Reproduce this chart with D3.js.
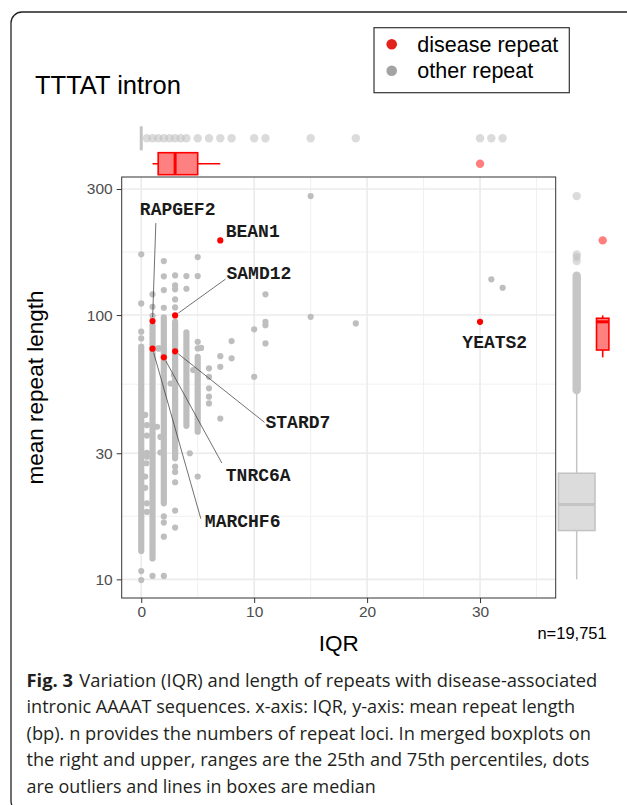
<!DOCTYPE html>
<html>
<head>
<meta charset="utf-8">
<script src="https://cdnjs.cloudflare.com/ajax/libs/d3/7.8.5/d3.min.js"></script>
<style>
  html, body { margin: 0; padding: 0; background: #fff; }
  svg { display: block; }
</style>
</head>
<body>
<div id="chart"></div>
<script>
// ---- data ----
// disease repeats (red, labelled)
var diseaseGenes = ["RAPGEF2", "BEAN1", "SAMD12", "MARCHF6", "TNRC6A", "STARD7", "YEATS2"];
var diseaseIQR = [1, 7, 3, 1, 2, 3, 30];
var diseaseLength = [94.9, 191.7, 99.7, 74.6, 69.2, 72.9, 94.3];

// other repeats: dense columns where points overlap into a solid bar
var runIQR = [0, 1, 2, 3, 4, 5];
var runLow = [12.8, 12.0, 19.4, 28.7, 38.1, 36.2];
var runHigh = [76, 91.6, 98, 94.3, 86, 69.5];

// other repeats: separate points
var otherIQR = [
  0, 0, 0, 0, 0, 0,
  1, 1, 1, 1,
  2, 2, 2, 2, 2, 2, 2, 2,
  3, 3, 3, 3, 3, 3, 3, 3, 3, 3,
  4, 4,
  5, 5, 5, 5, 5,
  6, 6, 6, 6, 6,
  7, 7, 7,
  8, 8,
  10, 10,
  11, 11, 11, 11,
  15, 15, 19, 31, 32,
  0.35, 0.5, 0.5, 0.5, 0.5, 0.45, 0.35, 0.35, 0.5, 0.5,
  1.7, 1.7, 1.4, 1.6, 1.5, 2.6, 2.9, 4.6, 4.3, 5.3
];
var otherLength = [
  169.7, 110.7, 86.5, 81.6, 10.75, 9.94,
  119.8, 107.5, 99.4, 10.3,
  160.1, 140.1, 124.3, 106.6, 17.3, 16.4, 14.5, 10.3,
  141.3, 129.5, 125.1, 114.6, 106.9, 26.7, 25.5, 23.3, 18.2, 15.7,
  140.5, 125.8,
  165.7, 140.5, 79.2, 74.8, 24.5,
  62.9, 58.4, 52.8, 49.1, 46.3,
  69.9, 63.7, 40.6,
  79.7, 68.6,
  88.3, 58.4,
  119.8, 94.3, 91.6, 78.1,
  282, 98.5, 93.0, 136.5, 126.9,
  41.9, 38.3, 35.0, 30.1, 29.1, 27.5, 24.5, 22.2, 19.4, 18.0,
  34.6, 30.2, 37.8, 74.8, 74.8, 55.1, 59.3, 61.9, 30.0, 75.1
];

// marginal boxplot of other repeats (IQR axis): box collapsed at 0, the rest are outliers
var otherIQRBox = [0, 0, 0, 0, 0]; // low whisker, q1, median, q3, high whisker
var otherIQROutliers = [0.5, 1, 1.5, 2, 2.5, 3, 3.5, 4, 5, 6, 7, 8, 10, 11, 15, 19, 30, 31, 32];
// marginal boxplot of other repeats (length axis)
var otherLenBox = [10, 15.3, 19.2, 25.2, 51.3];
var otherLenOutlierRun = [52, 141];
var otherLenOutliers = [160.1, 165.7, 169.7, 282];

var xTicks = [0, 10, 20, 30];
var xMinor = [5, 15, 25, 35];
var yTicks = [10, 30, 100, 300];

var captionLines = [
  "Variation (IQR) and length of repeats with disease-associated",
  "intronic AAAAT sequences. x-axis: IQR, y-axis: mean repeat length",
  "(bp). n provides the numbers of repeat loci. In merged boxplots on",
  "the right and upper, ranges are the 25th and 75th percentiles, dots",
  "are outliers and lines in boxes are median"
];

// ---- layout ----
var W = 627, H = 805;
var panel = { left: 121.7, right: 555.7, top: 177, bottom: 598 };
var labelNudge = {
  RAPGEF2: [-12.7, -106], BEAN1: [5.4, -3.6], SAMD12: [51.4, -36.3],
  MARCHF6: [52.3, 178], TNRC6A: [62, 123.7], STARD7: [90.4, 77], YEATS2: [-17.7, 26]
};
// where the leader line meets the label, relative to the label's left baseline
var segEnd = {
  RAPGEF2: [16, 8], SAMD12: [-1, 0], MARCHF6: [-4, -8], TNRC6A: [-4, -18], STARD7: [-1, -6]
};

var svg = d3.select("#chart").append("svg").attr("width", W).attr("height", H);

// outer frame with rounded corner
svg.append("rect")
  .attr("x", 11).attr("y", 12).attr("width", 640).attr("height", 800).attr("rx", 11)
  .attr("fill", "none").attr("stroke", "#222").attr("stroke-width", 1.3);

var x = d3.scaleLinear().domain([-1.73, 36.7]).range([panel.left, panel.right]);
var y = d3.scaleLog().domain([8.5, 333]).range([panel.bottom, panel.top]);

// minor y breaks sit half way between major breaks on the log scale
var yMinor = [];
for (var i = 0; i < yTicks.length - 1; i++) yMinor.push(Math.sqrt(yTicks[i] * yTicks[i + 1]));

var g = svg.append("g");

// grid
g.selectAll(".xminor").data(xMinor).enter().append("line")
  .attr("x1", d => x(d)).attr("x2", d => x(d)).attr("y1", panel.top).attr("y2", panel.bottom)
  .attr("stroke", "#eeeeee").attr("stroke-width", 0.9);
g.selectAll(".yminor").data(yMinor).enter().append("line")
  .attr("y1", d => y(d)).attr("y2", d => y(d)).attr("x1", panel.left).attr("x2", panel.right)
  .attr("stroke", "#eeeeee").attr("stroke-width", 0.9);
g.selectAll(".xmajor").data(xTicks).enter().append("line")
  .attr("x1", d => x(d)).attr("x2", d => x(d)).attr("y1", panel.top).attr("y2", panel.bottom)
  .attr("stroke", "#ebebeb").attr("stroke-width", 1.6);
g.selectAll(".ymajor").data(yTicks).enter().append("line")
  .attr("y1", d => y(d)).attr("y2", d => y(d)).attr("x1", panel.left).attr("x2", panel.right)
  .attr("stroke", "#ebebeb").attr("stroke-width", 1.6);

var grey = "#bebebe", red = "#ff0000", pr = 3.1;

// dense columns of grey points
g.selectAll(".run").data(runIQR).enter().append("line")
  .attr("x1", d => x(d)).attr("x2", d => x(d))
  .attr("y1", (d, i) => y(runLow[i])).attr("y2", (d, i) => y(runHigh[i]))
  .attr("stroke", grey).attr("stroke-width", pr * 2).attr("stroke-linecap", "round");

g.selectAll(".other").data(otherIQR).enter().append("circle")
  .attr("cx", d => x(d)).attr("cy", (d, i) => y(otherLength[i])).attr("r", pr)
  .attr("fill", grey);

// leader lines
diseaseGenes.forEach(function (gene, i) {
  if (!segEnd[gene]) return;
  var px = x(diseaseIQR[i]), py = y(diseaseLength[i]);
  var lx = px + labelNudge[gene][0], ly = py + labelNudge[gene][1];
  var ex = lx + segEnd[gene][0], ey = ly + segEnd[gene][1];
  var len = Math.hypot(ex - px, ey - py);
  var sx = px + (ex - px) * 4 / len, sy = py + (ey - py) * 4 / len;
  g.append("line").attr("x1", sx).attr("y1", sy).attr("x2", ex).attr("y2", ey)
    .attr("stroke", "#333").attr("stroke-width", 0.7);
});

g.selectAll(".disease").data(diseaseIQR).enter().append("circle")
  .attr("cx", d => x(d)).attr("cy", (d, i) => y(diseaseLength[i])).attr("r", pr)
  .attr("fill", red);

g.selectAll(".glabel").data(diseaseGenes).enter().append("text")
  .attr("x", (d, i) => x(diseaseIQR[i]) + labelNudge[d][0])
  .attr("y", (d, i) => y(diseaseLength[i]) + labelNudge[d][1])
  .attr("font-family", "'Liberation Mono', 'Courier New', monospace")
  .attr("font-weight", "bold").attr("font-size", 18).attr("fill", "#1a1a1a")
  .text(d => d);

// panel border
g.append("rect")
  .attr("x", panel.left).attr("y", panel.top)
  .attr("width", panel.right - panel.left).attr("height", panel.bottom - panel.top)
  .attr("fill", "none").attr("stroke", "#333").attr("stroke-width", 1);

// axes
var xAxis = svg.append("g").attr("transform", "translate(0," + panel.bottom + ")")
  .call(d3.axisBottom(x).tickValues(xTicks).tickSize(5).tickPadding(3));
var yAxis = svg.append("g").attr("transform", "translate(" + panel.left + ",0)")
  .call(d3.axisLeft(y).tickValues(yTicks).tickFormat(d3.format("d")).tickSize(5).tickPadding(4));
[xAxis, yAxis].forEach(function (a) {
  a.select(".domain").remove();
  a.selectAll("line").attr("stroke", "#333");
  a.selectAll("text").attr("fill", "#4d4d4d").attr("font-size", 15.5)
    .attr("font-family", "'Liberation Sans', Arial, sans-serif");
});

// ---- marginal boxplots ----
var quant = function (arr, p) { return d3.quantile(arr.slice().sort(d3.ascending), p); };
function boxStats(vals) {
  var q1 = quant(vals, 0.25), med = quant(vals, 0.5), q3 = quant(vals, 0.75), iqr = q3 - q1;
  var inside = vals.filter(v => v >= q1 - 1.5 * iqr && v <= q3 + 1.5 * iqr);
  return { lo: d3.min(inside), q1: q1, med: med, q3: q3, hi: d3.max(inside),
    out: vals.filter(v => v < q1 - 1.5 * iqr || v > q3 + 1.5 * iqr) };
}
var redIQR = boxStats(diseaseIQR);
// length box is computed on the log scale, as the axis is
var redLenLog = boxStats(diseaseLength.map(Math.log10));
var redLen = {};
Object.keys(redLenLog).forEach(function (k) {
  redLen[k] = k === "out" ? redLenLog.out.map(v => Math.pow(10, v)) : Math.pow(10, redLenLog[k]);
});

var redFill = "rgba(255,0,0,0.5)", greyFill = "#dcdcdc", greyLine = "#c4c4c4";
var outGrey = "rgba(190,190,190,0.55)", outRed = "rgba(255,0,0,0.5)", mr = 4.2;

// top: grey row and red row
var topGrey = 138.3, topRed = 163.7;
var m = svg.append("g");
m.append("line").attr("x1", x(otherIQRBox[0])).attr("x2", x(otherIQRBox[4]) + 0.01)
  .attr("y1", topGrey).attr("y2", topGrey).attr("stroke", greyLine).attr("stroke-width", 1.5);
m.selectAll(".tgo").data(otherIQROutliers).enter().append("circle")
  .attr("cx", d => x(d)).attr("cy", topGrey).attr("r", mr).attr("fill", outGrey);
m.append("line").attr("x1", x(otherIQRBox[2])).attr("x2", x(otherIQRBox[2]))
  .attr("y1", topGrey - 12).attr("y2", topGrey + 12).attr("stroke", greyLine).attr("stroke-width", 3);

m.append("line").attr("x1", x(redIQR.lo)).attr("x2", x(redIQR.hi))
  .attr("y1", topRed).attr("y2", topRed).attr("stroke", red).attr("stroke-width", 1.6);
m.append("rect").attr("x", x(redIQR.q1)).attr("y", topRed - 11)
  .attr("width", x(redIQR.q3) - x(redIQR.q1)).attr("height", 22)
  .attr("fill", "#ff8080").attr("stroke", red).attr("stroke-width", 1.6);
m.append("line").attr("x1", x(redIQR.med)).attr("x2", x(redIQR.med))
  .attr("y1", topRed - 11).attr("y2", topRed + 11).attr("stroke", red).attr("stroke-width", 3);
m.selectAll(".tro").data(redIQR.out).enter().append("circle")
  .attr("cx", d => x(d)).attr("cy", topRed).attr("r", mr).attr("fill", outRed);

// right: grey column and red column
var rGrey = 576.7, rRed = 602.7;
m.append("line").attr("x1", rGrey).attr("x2", rGrey)
  .attr("y1", y(otherLenBox[0])).attr("y2", y(otherLenBox[4]))
  .attr("stroke", greyLine).attr("stroke-width", 1.5);
m.append("line").attr("x1", rGrey).attr("x2", rGrey)
  .attr("y1", y(otherLenOutlierRun[0])).attr("y2", y(otherLenOutlierRun[1]))
  .attr("stroke", "#c6c6c6").attr("stroke-width", mr * 2).attr("stroke-linecap", "round");
m.selectAll(".rgo").data(otherLenOutliers).enter().append("circle")
  .attr("cx", rGrey).attr("cy", d => y(d)).attr("r", mr).attr("fill", outGrey);
m.append("rect").attr("x", rGrey - 18.3).attr("y", y(otherLenBox[3]))
  .attr("width", 36.6).attr("height", y(otherLenBox[1]) - y(otherLenBox[3]))
  .attr("fill", greyFill).attr("stroke", greyLine).attr("stroke-width", 1.6);
m.append("line").attr("x1", rGrey - 18.3).attr("x2", rGrey + 18.3)
  .attr("y1", y(otherLenBox[2])).attr("y2", y(otherLenBox[2]))
  .attr("stroke", greyLine).attr("stroke-width", 3);

m.append("line").attr("x1", rRed).attr("x2", rRed)
  .attr("y1", y(redLen.lo)).attr("y2", y(redLen.hi)).attr("stroke", red).attr("stroke-width", 1.6);
m.append("rect").attr("x", rRed - 6.2).attr("y", y(redLen.q3))
  .attr("width", 12.4).attr("height", y(redLen.q1) - y(redLen.q3))
  .attr("fill", "#ff8080").attr("stroke", red).attr("stroke-width", 1.6);
m.append("line").attr("x1", rRed - 6.2).attr("x2", rRed + 6.2)
  .attr("y1", y(redLen.med)).attr("y2", y(redLen.med)).attr("stroke", red).attr("stroke-width", 3);
m.selectAll(".rro").data(redLen.out).enter().append("circle")
  .attr("cx", rRed).attr("cy", d => y(d)).attr("r", mr).attr("fill", outRed);

// ---- titles ----
var sans = "'Liberation Sans', Arial, sans-serif";
svg.append("text").attr("x", 35).attr("y", 94).attr("font-family", sans)
  .attr("font-size", 25.5).attr("fill", "#000").text("TTTAT intron");
svg.append("text").attr("x", (panel.left + panel.right) / 2).attr("y", 651)
  .attr("text-anchor", "middle").attr("font-family", sans).attr("font-size", 22.5).text("IQR");
svg.append("text").attr("transform", "translate(43," + (panel.top + panel.bottom) / 2 + ") rotate(-90)")
  .attr("text-anchor", "middle").attr("font-family", sans).attr("font-size", 22.5)
  .text("mean repeat length");
svg.append("text").attr("x", 606.7).attr("y", 639).attr("text-anchor", "end")
  .attr("font-family", sans).attr("font-size", 16.5).text("n=19,751");

// legend
var lg = svg.append("g");
lg.append("rect").attr("x", 374).attr("y", 27.7).attr("width", 195.3).attr("height", 65)
  .attr("fill", "#fff").attr("stroke", "#333").attr("stroke-width", 1.2);
var legendItems = [["disease repeat", "#e3231b"], ["other repeat", "#a3a3a3"]];
legendItems.forEach(function (it, i) {
  lg.append("circle").attr("cx", 391.7).attr("cy", 44.3 + i * 26.4).attr("r", 5.3).attr("fill", it[1]);
  lg.append("text").attr("x", 417.3).attr("y", 52 + i * 26.4).attr("font-family", sans)
    .attr("font-size", 21.5).attr("fill", "#000").text(it[0]);
});

// caption
var capEnds = [597.3, 575, 591, 589.3, 375.7];
var capFont = "'Open Sans', 'Noto Sans', sans-serif";
captionLines.forEach(function (line, i) {
  var t = svg.append("text").attr("x", 26.5).attr("y", 686.5 + i * 26.5)
    .attr("font-family", capFont).attr("font-size", 17.5).attr("fill", "#231f20");
  if (i === 0) {
    t.append("tspan").attr("font-weight", "bold").text("Fig. 3");
    t.append("tspan").attr("dx", 6).text(line);
  } else {
    t.text(line);
  }
  t.attr("textLength", capEnds[i] - 26.5).attr("lengthAdjust", "spacingAndGlyphs");
});
</script>
</body>
</html>
